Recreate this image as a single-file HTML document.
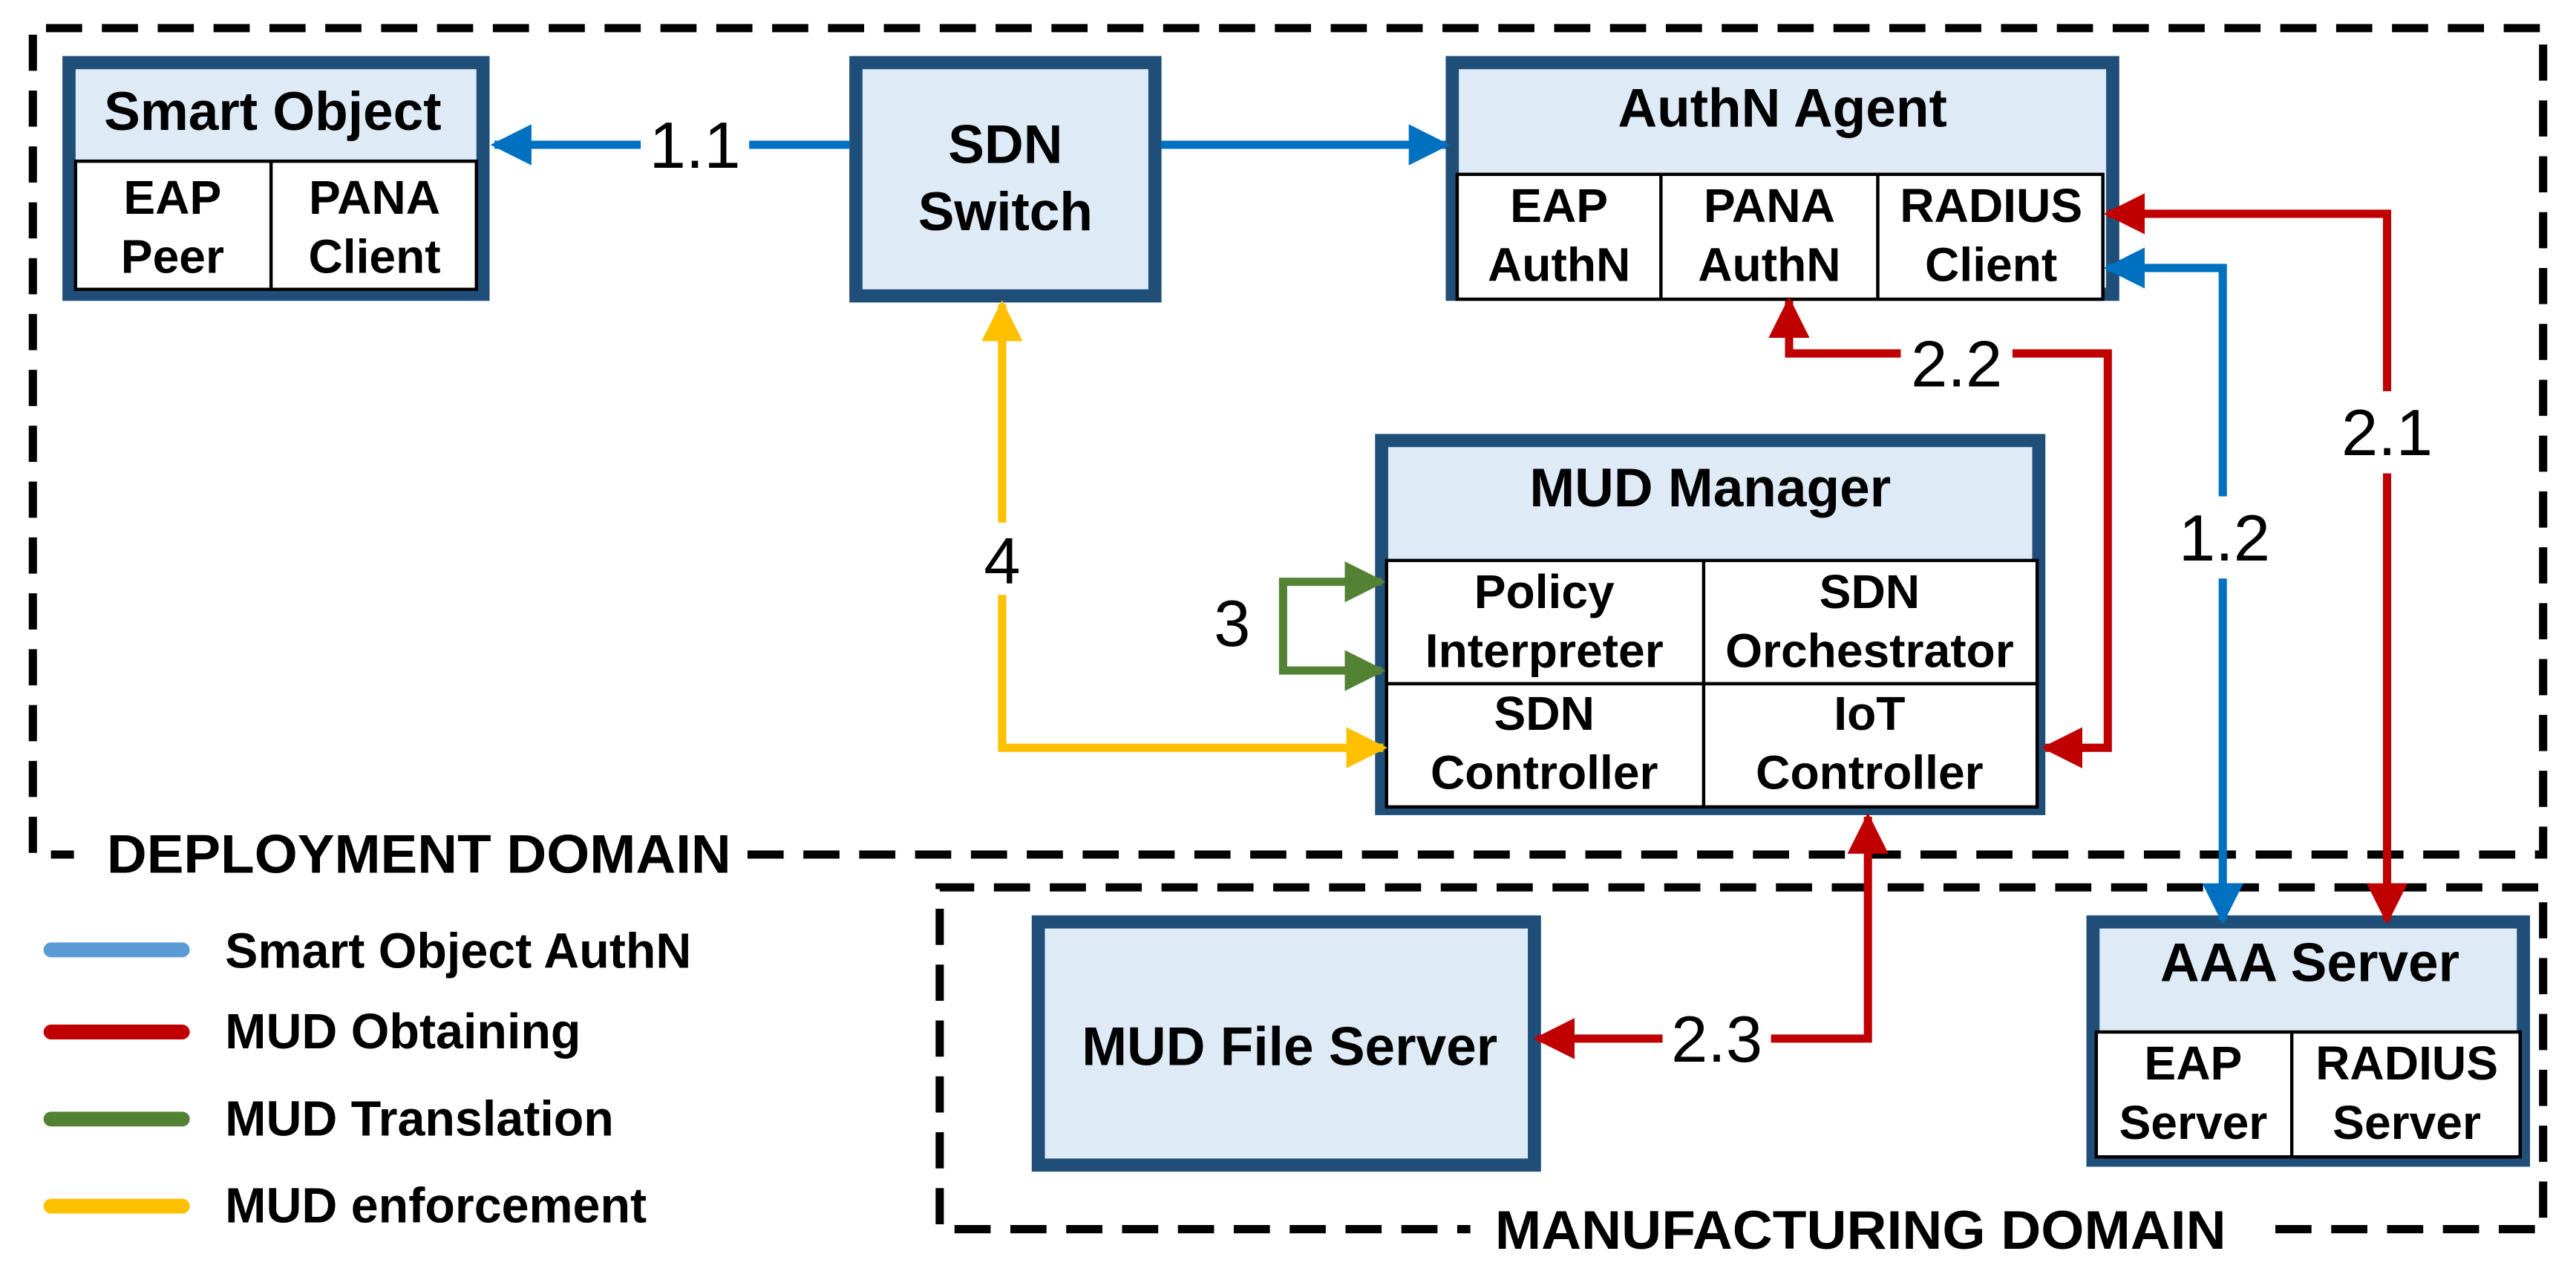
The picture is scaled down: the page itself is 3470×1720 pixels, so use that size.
<!DOCTYPE html>
<html><head><meta charset="utf-8"><style>html,body{margin:0;padding:0;background:#fff}svg{display:block}</style></head><body>
<svg width="3470" height="1720" viewBox="0 0 1568 777" xmlns="http://www.w3.org/2000/svg" font-family="Liberation Sans, Arial, sans-serif">
<defs>
<marker id="ab" viewBox="0 0 10 10" refX="9" refY="5" markerWidth="5" markerHeight="5" orient="auto-start-reverse" markerUnits="strokeWidth"><path d="M0,0 L10,5 L0,10 z" fill="#0070C0"/></marker>
<marker id="ar" viewBox="0 0 10 10" refX="9" refY="5" markerWidth="5" markerHeight="5" orient="auto-start-reverse" markerUnits="strokeWidth"><path d="M0,0 L10,5 L0,10 z" fill="#C00000"/></marker>
<marker id="ag" viewBox="0 0 10 10" refX="9" refY="5" markerWidth="5" markerHeight="5" orient="auto-start-reverse" markerUnits="strokeWidth"><path d="M0,0 L10,5 L0,10 z" fill="#548235"/></marker>
<marker id="ay" viewBox="0 0 10 10" refX="9" refY="5" markerWidth="5" markerHeight="5" orient="auto-start-reverse" markerUnits="strokeWidth"><path d="M0,0 L10,5 L0,10 z" fill="#FFC000"/></marker>
</defs>
<g fill="none" stroke="#000" stroke-width="5" stroke-dasharray="22,12">
<path d="M455,520 L1548,520 L1548,17 L20,17 L20,520 L45,520"/>
<path d="M1385,748 L1548,748 L1548,540 L572,540 L572,748 L895,748"/>
</g>
<g font-weight="bold" font-size="33" fill="#000">
<text x="65" y="531" textLength="380" lengthAdjust="spacingAndGlyphs">DEPLOYMENT DOMAIN</text>
<text x="910" y="760" textLength="445" lengthAdjust="spacingAndGlyphs">MANUFACTURING DOMAIN</text>
</g>
<g fill="#DEEAF6" stroke="#1F4E79" stroke-width="8">
<rect x="42" y="38" width="252" height="141"/>
<rect x="521" y="38" width="182" height="142"/>
<rect x="884" y="38" width="402" height="141"/>
<rect x="841" y="268" width="400" height="224"/>
<rect x="632" y="561" width="302" height="148"/>
<rect x="1274" y="561" width="262" height="145"/>
</g>
<g fill="#fff" stroke="#000" stroke-width="2">
<rect x="46" y="98" width="244" height="78"/>
<line x1="165" y1="98" x2="165" y2="176"/>
<rect x="887" y="106" width="393" height="76"/>
<line x1="1011" y1="106" x2="1011" y2="182"/><line x1="1143" y1="106" x2="1143" y2="182"/>
<rect x="844" y="341" width="396" height="150"/>
<line x1="1037" y1="341" x2="1037" y2="491"/><line x1="844" y1="416" x2="1240" y2="416"/>
<rect x="1276" y="628" width="258" height="76"/>
<line x1="1395" y1="628" x2="1395" y2="704"/>
</g>
<g font-weight="bold" font-size="33" text-anchor="middle" fill="#000">
<text x="166" y="79">Smart Object</text>
<text x="612" y="99">SDN</text><text x="612" y="140">Switch</text>
<text x="1085" y="77">AuthN Agent</text>
<text x="1041" y="308">MUD Manager</text>
<text x="785" y="648">MUD File Server</text>
<text x="1406" y="597">AAA Server</text>
</g>
<g font-weight="bold" font-size="29" text-anchor="middle" fill="#000">
<text x="105" y="130">EAP</text><text x="105" y="166">Peer</text>
<text x="228" y="130">PANA</text><text x="228" y="166">Client</text>
<text x="949" y="135">EAP</text><text x="949" y="171">AuthN</text>
<text x="1077" y="135">PANA</text><text x="1077" y="171">AuthN</text>
<text x="1212" y="135">RADIUS</text><text x="1212" y="171">Client</text>
<text x="940" y="370">Policy</text><text x="940" y="406">Interpreter</text>
<text x="1138" y="370">SDN</text><text x="1138" y="406">Orchestrator</text>
<text x="940" y="444">SDN</text><text x="940" y="480">Controller</text>
<text x="1138" y="444">IoT</text><text x="1138" y="480">Controller</text>
<text x="1335" y="657">EAP</text><text x="1335" y="693">Server</text>
<text x="1465" y="657">RADIUS</text><text x="1465" y="693">Server</text>
</g>
<g fill="none" stroke-width="5">
<path d="M517,88 L301,88" stroke="#0070C0" marker-end="url(#ab)"/>
<path d="M707,88 L880,88" stroke="#0070C0" marker-end="url(#ab)"/>
<path d="M1353,560 L1353,163 L1283,163" stroke="#0070C0" marker-start="url(#ab)" marker-end="url(#ab)"/>
<path d="M1453,560 L1453,130 L1283,130" stroke="#C00000" marker-start="url(#ar)" marker-end="url(#ar)"/>
<path d="M1245,455 L1283,455 L1283,215 L1089,215 L1089,183" stroke="#C00000" marker-start="url(#ar)" marker-end="url(#ar)"/>
<path d="M1137,497 L1137,632 L936,632" stroke="#C00000" marker-start="url(#ar)" marker-end="url(#ar)"/>
<path d="M841,354 L781,354 L781,408 L841,408" stroke="#548235" marker-start="url(#ag)" marker-end="url(#ag)"/>
<path d="M610,185 L610,455 L842,455" stroke="#FFC000" marker-start="url(#ay)" marker-end="url(#ay)"/>
</g>
<g fill="#fff">
<rect x="390" y="66" width="66" height="44"/>
<rect x="1157" y="196" width="68" height="46"/>
<rect x="1422" y="238" width="62" height="50"/>
<rect x="1323" y="302" width="62" height="50"/>
<rect x="594" y="318" width="32" height="44"/>
<rect x="1012" y="608" width="66" height="46"/>
</g>
<g font-size="40" text-anchor="middle" fill="#000">
<text x="423" y="102">1.1</text>
<text x="1191" y="235">2.2</text>
<text x="1453" y="277">2.1</text>
<text x="1354" y="341">1.2</text>
<text x="610" y="355">4</text>
<text x="750" y="393">3</text>
<text x="1045" y="646">2.3</text>
</g>
<g stroke-width="9" stroke-linecap="round">
<line x1="31" y1="578" x2="111" y2="578" stroke="#5B9BD5"/>
<line x1="31" y1="628" x2="111" y2="628" stroke="#C00000"/>
<line x1="31" y1="681" x2="111" y2="681" stroke="#548235"/>
<line x1="31" y1="734" x2="111" y2="734" stroke="#FFC000"/>
</g>
<g font-weight="bold" font-size="30" fill="#000">
<text x="137" y="589">Smart Object AuthN</text>
<text x="137" y="638">MUD Obtaining</text>
<text x="137" y="691">MUD Translation</text>
<text x="137" y="744">MUD enforcement</text>
</g>
</svg>
</body></html>
